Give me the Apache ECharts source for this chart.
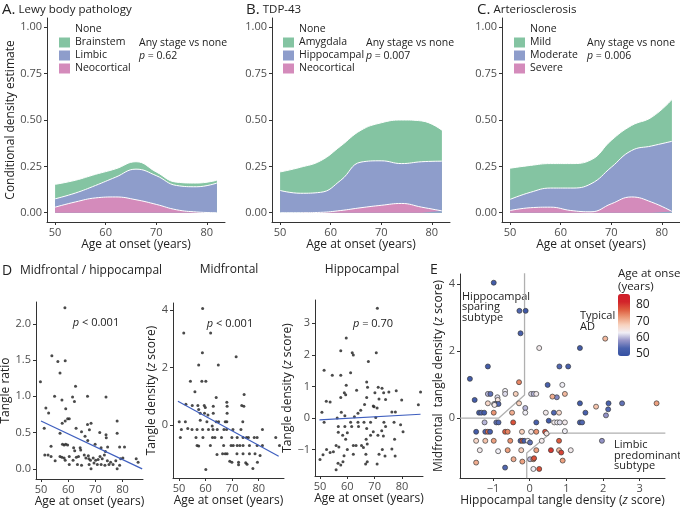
<!DOCTYPE html>
<html>
<head>
<meta charset="UTF-8"/>
<script src="https://cdn.jsdelivr.net/npm/echarts@6/dist/echarts.min.js"></script>
<title>Neuropathology and tangle density by age at onset</title>
<style>body{margin:0;background:#fff}#main{width:680px;height:510px}</style>
</head>
<body>
<div id="main"></div>
<script>
var FONT = 'Open Sans'

// top row: upper edge of each cumulative band (conditional density) at these ages
var ages = [50, 54, 58, 62, 66, 70, 74, 78, 82]
var lewyNeoTop = [0.03, 0.058, 0.08, 0.085, 0.07, 0.045, 0.016, 0.004, 0]
var lewyLimbicTop = [0.075, 0.106, 0.147, 0.192, 0.235, 0.2, 0.147, 0.14, 0.16]
var lewyBrainstemTop = [0.153, 0.175, 0.207, 0.237, 0.275, 0.22, 0.165, 0.16, 0.175]
var tdpNeoTop = [0, 0, 0.002, 0.012, 0.027, 0.04, 0.05, 0.03, 0.01]
var tdpHippoTop = [0.12, 0.105, 0.11, 0.175, 0.273, 0.28, 0.265, 0.275, 0.278]
var tdpAmygTop = [0.22, 0.245, 0.28, 0.36, 0.445, 0.485, 0.5, 0.495, 0.445]
var artSevereTop = [0.012, 0.027, 0.03, 0.012, 0.005, 0.048, 0.085, 0.057, 0.007]
var artModerateTop = [0.072, 0.11, 0.133, 0.133, 0.156, 0.245, 0.335, 0.36, 0.385]
var artMildTop = [0.24, 0.255, 0.265, 0.265, 0.285, 0.39, 0.47, 0.515, 0.61]

// bottom row: [age at onset, value]
var ratioPts = [[58.8,2.22],[54.0,1.56],[56.2,1.48],[58.9,1.49],[57.0,1.32],[49.8,1.20],[62.7,1.14],[55.0,1.00],[57.7,0.95],[61.6,0.99],[62.3,0.93],[67.1,1.00],[73.9,0.99],[51.8,0.84],[59.1,0.83],[52.8,0.77],[58.9,0.66],[60.4,0.69],[59.8,0.69],[57.8,0.63],[78.0,0.66],[51.2,0.56],[62.9,0.56],[67.1,0.61],[68.4,0.63],[67.8,0.54],[64.9,0.51],[71.6,0.50],[73.9,0.47],[74.0,0.43],[78.0,0.49],[57.0,0.49],[66.2,0.45],[67.2,0.39],[69.9,0.34],[57.9,0.34],[58.5,0.33],[59.1,0.34],[59.8,0.33],[53.7,0.31],[62.0,0.29],[64.4,0.29],[64.6,0.26],[62.4,0.25],[72.1,0.29],[74.5,0.30],[78.9,0.30],[80.7,0.30],[73.7,0.24],[51.4,0.19],[52.6,0.19],[57.0,0.17],[57.7,0.16],[58.5,0.15],[58.9,0.12],[55.2,0.11],[60.4,0.17],[61.8,0.12],[63.0,0.16],[63.8,0.17],[65.9,0.19],[66.5,0.15],[67.4,0.18],[67.6,0.14],[68.2,0.12],[69.2,0.15],[70.1,0.12],[71.0,0.13],[71.7,0.17],[72.5,0.14],[73.3,0.19],[74.4,0.11],[75.6,0.09],[76.5,0.06],[77.5,0.11],[79.3,0.14],[80.1,0.15],[53.7,0.17],[60.4,0.06],[64.9,0.05],[67.7,0.06],[68.4,0.00],[72.1,0.06],[73.5,0.05],[75.0,0.06],[78.0,0.00],[78.9,0.05],[85.0,0.14],[85.7,0.09],[63.4,0.06],[69.5,0.08],[70.7,0.06]]
var midPts = [[58.9,4.06],[51.8,3.21],[61.9,3.21],[58.8,2.52],[71.5,2.38],[57.4,2.09],[64.8,2.09],[54.3,1.53],[58.6,1.53],[60.1,1.53],[56.0,1.16],[74.5,1.07],[52.6,0.73],[55.0,0.68],[57.1,0.68],[59.5,0.68],[59.9,0.61],[62.9,0.66],[64.0,0.96],[68.0,0.80],[68.1,0.66],[73.6,0.68],[74.4,0.66],[57.4,0.54],[58.0,0.41],[59.6,0.41],[60.9,0.35],[62.9,0.41],[68.1,0.41],[50.1,0.12],[52.4,0.12],[58.0,0.17],[60.5,0.12],[64.0,0.12],[64.9,0.12],[67.4,0.12],[68.0,0.12],[74.0,0.12],[50.9,-0.15],[53.3,-0.12],[54.9,-0.15],[56.8,-0.15],[58.9,-0.15],[61.1,-0.15],[62.8,-0.15],[64.4,-0.15],[66.9,-0.15],[67.9,-0.15],[70.3,-0.15],[73.3,-0.15],[81.4,-0.15],[50.5,-0.43],[56.4,-0.43],[59.0,-0.43],[62.6,-0.43],[63.5,-0.43],[66.0,-0.43],[69.9,-0.43],[71.9,-0.43],[74.1,-0.43],[75.4,-0.43],[76.1,-0.43],[78.3,-0.43],[79.4,-0.43],[86.4,-0.43],[56.8,-0.71],[57.4,-0.73],[61.8,-0.71],[66.8,-0.71],[69.6,-0.71],[70.4,-0.71],[71.9,-0.71],[72.9,-0.71],[74.1,-0.71],[76.5,-0.71],[79.4,-0.71],[81.4,-0.71],[87.8,-0.71],[64.3,-1.02],[66.4,-1.00],[67.4,-1.00],[68.1,-1.00],[71.8,-1.00],[74.1,-1.00],[76.5,-1.00],[78.6,-1.00],[80.5,-1.06],[69.1,-1.26],[69.9,-1.29],[72.4,-1.29],[72.4,-1.38],[75.1,-1.31],[75.6,-1.36],[79.5,-1.29],[60.1,-1.54],[77.8,-1.51],[62.5,-0.03]]
var hipPts = [[71.0,3.47],[59.6,2.53],[57.6,2.13],[61.8,2.06],[62.2,1.99],[70.6,2.06],[67.7,1.79],[51.5,1.51],[54.5,1.35],[57.6,1.35],[61.2,1.43],[59.6,1.04],[67.1,1.14],[63.4,0.88],[67.4,0.97],[71.3,0.97],[72.7,0.94],[58.9,0.80],[59.4,0.74],[70.1,0.80],[75.2,0.82],[77.9,0.86],[73.3,0.80],[86.8,0.82],[52.3,0.53],[53.7,0.51],[57.6,0.65],[67.1,0.65],[71.6,0.60],[74.0,0.59],[79.9,0.57],[86.0,0.42],[66.3,0.43],[69.5,0.38],[70.9,0.32],[64.9,0.25],[76.3,0.19],[77.6,0.19],[50.7,0.18],[57.8,0.18],[63.9,0.15],[69.8,0.36],[59.1,0.07],[56.3,0.00],[62.6,0.04],[70.4,0.02],[51.5,-0.13],[61.2,-0.13],[63.9,-0.13],[66.1,-0.13],[68.5,-0.13],[73.4,-0.13],[77.1,-0.13],[56.7,-0.27],[59.1,-0.27],[61.6,-0.27],[67.1,-0.33],[74.0,-0.27],[79.5,-0.21],[69.5,-0.43],[72.6,-0.40],[80.4,-0.43],[56.7,-0.45],[58.3,-0.54],[60.0,-0.46],[71.2,-0.54],[68.5,-0.54],[73.2,-0.57],[77.3,-0.67],[59.4,-0.67],[66.9,-0.67],[67.3,-0.82],[55.9,-0.87],[62.2,-0.87],[63.2,-0.87],[65.2,-0.87],[65.9,-0.93],[76.3,-0.98],[72.8,-0.99],[52.4,-0.99],[56.9,-0.91],[51.1,-1.16],[53.7,-1.09],[54.9,-1.06],[58.8,-1.19],[62.2,-1.14],[66.8,-1.14],[71.6,-1.14],[73.8,-1.20],[77.5,-1.20],[50.0,-1.31],[58.4,-1.38],[67.3,-1.38],[66.7,-1.45],[56.6,-1.43],[57.6,-1.48],[70.9,-1.45],[55.9,-1.63],[60.0,-0.99],[64.1,-0.27]]
// fitted lines, end points
var ratioFit = [[50, 0.66], [87.2, 0.0]]
var midFit = [[49.6, 0.83], [87.5, -1.08]]
var hipFit = [[49.8, -0.06], [86.8, 0.12]]

// panel E: [hippocampal z, midfrontal z, age at onset]
var subtypePts = [[-0.98,4.04,52],[-0.28,3.2,54],[-0.11,3.2,51],[-0.25,2.53,53],[0.26,2.09,64],[1.37,2.09,52],[2.06,2.37,70],[-1.14,1.54,52],[0.81,1.54,54],[1.05,1.54,53],[-1.63,1.17,52],[-0.29,1.07,74],[0.49,0.99,53],[0.89,0.99,63],[-0.67,0.81,63],[-0.67,0.72,62],[-1.14,0.72,60],[-1.07,0.72,55],[-0.38,0.72,68],[0.04,0.72,62],[0.11,0.72,60],[0.18,0.72,64],[-0.88,0.62,62],[0.74,0.62,57],[0.96,0.72,70],[0.62,0.64,71],[-1.5,0.54,52],[-0.87,0.54,65],[-1.14,0.44,67],[-0.97,0.42,62],[-0.92,0.42,55],[-0.85,0.42,54],[-0.96,0.39,64],[-0.29,0.44,68],[-0.12,0.30,60],[1.37,0.44,52],[1.81,0.34,69],[2.15,0.44,53],[2.52,0.44,55],[3.46,0.44,72],[2.14,0.26,54],[-1.38,0.16,53],[-1.32,0.16,54],[-1.24,0.16,52],[-0.98,0.16,73],[-0.48,0.16,71],[-0.12,0.16,63],[0.44,0.16,64],[0.66,0.16,54],[0.8,0.16,67],[1.52,0.16,53],[2.08,0.08,58],[-1.23,-0.13,60],[-0.91,-0.13,55],[-0.85,-0.13,54],[-0.45,-0.13,78],[0.18,-0.13,53],[0.52,-0.08,52],[0.67,-0.13,64],[0.75,-0.13,63],[0.82,-0.13,62],[0.96,-0.13,64],[1.37,-0.13,53],[1.43,-0.13,54],[-1.46,-0.41,52],[-1.21,-0.41,54],[-1.14,-0.41,76],[-1.08,-0.41,53],[-0.67,-0.41,77],[-0.6,-0.41,74],[-0.21,-0.41,68],[0.04,-0.41,64],[0.18,-0.41,73],[0.42,-0.41,78],[0.46,-0.46,65],[0.96,-0.39,63],[-1.46,-0.68,67],[-1.21,-0.68,69],[-0.98,-0.68,72],[-0.53,-0.68,73],[-0.25,-0.68,54],[-0.2,-0.68,77],[-0.15,-0.68,53],[-0.05,-0.68,63],[0.01,-0.73,55],[0.33,-0.68,64],[0.8,-0.68,77],[1.97,-0.68,58],[-1.36,-0.96,64],[-0.86,-0.99,63],[-0.6,-0.96,72],[-0.23,-0.96,68],[0.18,-0.96,72],[0.58,-0.96,80],[0.8,-0.96,70],[0.86,-1.03,79],[1.12,-0.96,64],[-0.44,-1.23,71],[0.01,-1.23,60],[0.1,-1.23,72],[0.12,-1.2,78],[0.9,-1.27,72],[-0.2,-1.3,72],[-1.46,-1.33,71],[-0.67,-1.48,54],[0.1,-1.52,63],[0.26,-1.52,78]]
var sparingLine = [[-0.14, 4.4], [-0.14, 0.69], [-0.84, 0], [-1.9, 0]]
var limbicLine = [[-0.08, -1.8], [-0.08, -1.04], [0.57, -0.45], [3.7, -0.45]]

var GREEN = '#84c4a2', BLUE = '#8e9dcb', PINK = '#d48bbb'

function band(name, tops, color, gi, z) {
    // each band is filled down to 0; higher bands are drawn first so lower ones sit on top
    return {
        name: name, type: 'line', xAxisIndex: gi, yAxisIndex: gi,
        smooth: 0.45, showSymbol: false, z: z,
        data: ages.map(function (a, i) { return [a, tops[i]] }),
        itemStyle: {color: color},
        lineStyle: {color: '#fff', width: 1},
        areaStyle: {color: color, opacity: 1}
    }
}

function fmt(d) {
    return function (v) { return (d == null ? String(v) : v.toFixed(d)).replace('-', '\u2212') }
}

function axis(gi, min, max, ticks, dec, extra) {
    var a = {
        gridIndex: gi, type: 'value', min: min, max: max,
        splitLine: {show: false},
        axisLine: {show: true, onZero: false, lineStyle: {color: '#333', width: 1}},
        axisTick: {show: true, length: 3, customValues: ticks, lineStyle: {color: '#333'}},
        axisLabel: {customValues: ticks, formatter: fmt(dec), color: '#4d4d4d', fontSize: 11, fontFamily: FONT, margin: 5},
        nameLocation: 'middle',
        nameTextStyle: {color: '#222', fontSize: 12, fontFamily: FONT, rich: {i: {fontStyle: 'italic', fontSize: 12, fontFamily: FONT}}}
    }
    for (var k in extra) a[k] = extra[k]
    return a
}

function txt(x, y, text, size, align) {
    return {
        type: 'text', x: x, y: y, silent: true,
        style: {
            text: text, fontSize: size, fontFamily: FONT, fill: '#222',
            align: align || 'left', verticalAlign: 'middle',
            rich: {
                i: {fontStyle: 'italic', fontSize: size, fontFamily: FONT, fill: '#222'},
                big: {fontSize: 15, fontFamily: FONT, fill: '#222'},
                sm: {fontSize: 11.5, fontFamily: FONT, fill: '#222'}
            }
        }
    }
}

function legend(left, names) {
    return {
        left: left, top: 24, orient: 'vertical', data: names, icon: 'rect',
        itemWidth: 11, itemHeight: 10, itemGap: 2, padding: 0, selectedMode: false,
        textStyle: {fontSize: 10.5, fontFamily: FONT, color: '#222', lineHeight: 10}
    }
}

var grids = [
    {left: 47, top: 18, width: 178, height: 204},
    {left: 272, top: 18, width: 178, height: 204},
    {left: 502, top: 18, width: 178, height: 204},
    {left: 36, top: 302, width: 107, height: 177},
    {left: 173, top: 303, width: 111, height: 175},
    {left: 315, top: 300, width: 108, height: 176},
    {left: 460, top: 274, width: 205, height: 204},
    {left: 618, top: 294, width: 12, height: 62}
]
grids.forEach(function (g) { g.outerBoundsMode = 'none' })

var densTicks = [0, 0.25, 0.5, 0.75, 1]
var ageTicks = [50, 60, 70, 80]
var xAxes = [], yAxes = []
for (var gi = 0; gi < 3; gi++) {
    xAxes.push(axis(gi, 48.4, 83.6, ageTicks, null, {name: 'Age at onset (years)', nameGap: 17}))
    yAxes.push(axis(gi, -0.05, 1.05, densTicks, 2, gi === 0 ? {name: 'Conditional density estimate', nameGap: 29} : {}))
}
xAxes.push(axis(3, 48.17, 87.5, ageTicks, null, {name: 'Age at onset (years)', nameGap: 15}))
yAxes.push(axis(3, -0.14, 2.3, [0, 0.5, 1, 1.5, 2], 1, {name: 'Tangle ratio', nameGap: 22}))
xAxes.push(axis(4, 47.75, 89.5, ageTicks, null, {name: 'Age at onset (years)', nameGap: 15}))
yAxes.push(axis(4, -1.84, 4.25, [0, 2, 4], null, {name: 'Tangle density ({i|z} score)', nameGap: 10}))
xAxes.push(axis(5, 48.17, 87.7, ageTicks, null, {name: 'Age at onset (years)', nameGap: 16}))
yAxes.push(axis(5, -1.83, 3.73, [-1, 0, 1, 2, 3], null, {name: 'Tangle density ({i|z} score)', nameGap: 14}))
xAxes.push(axis(6, -1.9, 3.69, [-1, 0, 1, 2, 3], null, {name: 'Hippocampal tangle density ({i|z} score)', nameGap: 15}))
yAxes.push(axis(6, -1.79, 4.3, [0, 2, 4], null, {name: 'Midfrontal  tangle density ({i|z} score)', nameGap: 14}))
xAxes.push({gridIndex: 7, type: 'value', min: 0, max: 1, show: false})
yAxes.push({
    gridIndex: 7, type: 'value', position: 'right', min: 48.8, max: 86.7,
    splitLine: {show: false}, axisLine: {show: false}, axisTick: {show: false},
    axisLabel: {customValues: [50, 60, 70, 80], color: '#222', fontSize: 12, fontFamily: FONT, margin: 6}
})

function dots(gi, pts) {
    return {type: 'scatter', xAxisIndex: gi, yAxisIndex: gi, data: pts, symbolSize: 3,
        itemStyle: {color: '#2a2a2a', opacity: 0.85}, z: 2}
}
function fit(gi, pts) {
    return {type: 'line', xAxisIndex: gi, yAxisIndex: gi, data: pts, showSymbol: false,
        lineStyle: {color: '#3f5fbf', width: 1.2}, z: 3}
}
function guide(pts) {
    return {type: 'line', xAxisIndex: 6, yAxisIndex: 6, data: pts, showSymbol: false,
        lineStyle: {color: '#b0b0b0', width: 1.3}, z: 1}
}

var series = [
    {name: 'None', type: 'line', xAxisIndex: 0, yAxisIndex: 0, data: [], itemStyle: {color: '#fff'}},
    band('Brainstem', lewyBrainstemTop, GREEN, 0, 2),
    band('Limbic', lewyLimbicTop, BLUE, 0, 3),
    band('Neocortical', lewyNeoTop, PINK, 0, 4),
    band('Amygdala', tdpAmygTop, GREEN, 1, 2),
    band('Hippocampal', tdpHippoTop, BLUE, 1, 3),
    band('Neocortical', tdpNeoTop, PINK, 1, 4),
    band('Mild', artMildTop, GREEN, 2, 2),
    band('Moderate', artModerateTop, BLUE, 2, 3),
    band('Severe', artSevereTop, PINK, 2, 4),
    dots(3, ratioPts), fit(3, ratioFit),
    dots(4, midPts), fit(4, midFit),
    dots(5, hipPts), fit(5, hipFit),
    guide(sparingLine), guide(limbicLine),
    {type: 'scatter', xAxisIndex: 6, yAxisIndex: 6, data: subtypePts, symbolSize: 5,
        itemStyle: {borderColor: '#3a3a3a', borderWidth: 0.7, opacity: 1}, z: 4}
]
var ageSeries = series.length - 1

var texts = [
    txt(2, 10, '{big|A.} {sm|Lewy body pathology}', 12),
    txt(246, 10, '{big|B.} {sm|TDP-43}', 12),
    txt(477, 10, '{big|C.} {sm|Arteriosclerosis}', 12),
    txt(139, 43, 'Any stage vs none', 10.5), txt(139, 56, '{i|p} = 0.62', 10.5),
    txt(366, 43, 'Any stage vs none', 10.5), txt(366, 56, '{i|p} = 0.007', 10.5),
    txt(587, 43, 'Any stage vs none', 10.5), txt(587, 56, '{i|p} = 0.006', 10.5),
    txt(2, 271, 'D', 14),
    txt(91, 271, 'Midfrontal / hippocampal', 12, 'center'),
    txt(229, 270, 'Midfrontal', 12, 'center'),
    txt(362, 270, 'Hippocampal', 12, 'center'),
    txt(430, 270, 'E', 14),
    txt(96, 323, '{i|p} < 0.001', 11, 'center'),
    txt(230, 324, '{i|p} < 0.001', 11, 'center'),
    txt(373, 324, '{i|p} = 0.70', 11, 'center'),
    txt(462, 297, 'Hippocampal', 11), txt(462, 307, 'sparing', 11), txt(462, 318, 'subtype', 11),
    txt(580, 316, 'Typical', 11), txt(580, 327, 'AD', 11),
    txt(614, 445, 'Limbic', 11), txt(614, 456, 'predominant', 11), txt(614, 466, 'subtype', 11),
    txt(618, 274, 'Age at onset', 11.5), txt(618, 287, '(years)', 11.5)
]

var chart = echarts.init(document.getElementById('main'))
chart.setOption({
    animation: false,
    backgroundColor: '#fff',
    textStyle: {fontFamily: FONT},
    grid: grids,
    xAxis: xAxes,
    yAxis: yAxes,
    legend: [
        legend(59, ['None', 'Brainstem', 'Limbic', 'Neocortical']),
        legend(283, ['None', 'Amygdala', 'Hippocampal', 'Neocortical']),
        legend(514, ['None', 'Mild', 'Moderate', 'Severe'])
    ],
    visualMap: {
        type: 'continuous', seriesIndex: ageSeries, dimension: 2,
        min: 48.8, max: 86.7, calculable: false, hoverLink: false,
        left: 618, top: 294, itemWidth: 12, itemHeight: 62, padding: 0,
        text: null, showLabel: false,
        inRange: {color: ['#3550a2', '#4a62ad', '#9695c8', '#f1eff6', '#f8d3c0', '#ec9a78', '#dd5a3d', '#d2232a', '#d0202a']}
    },
    graphic: texts,
    series: series
})
</script>
</body>
</html>
